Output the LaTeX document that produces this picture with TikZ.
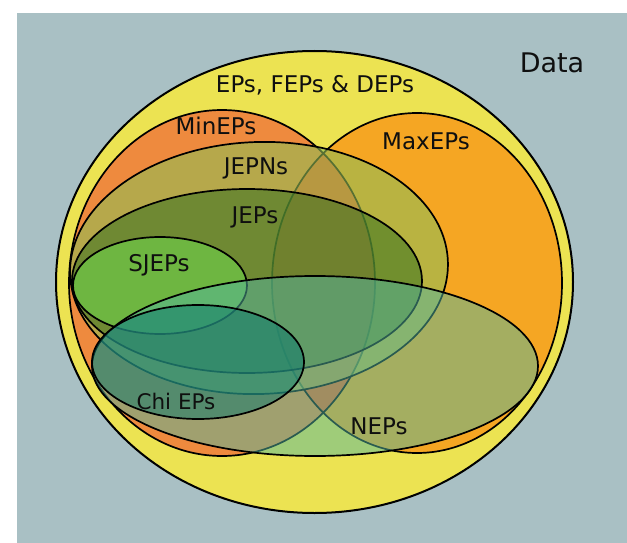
\documentclass[tikz,border=0pt]{standalone}
\usepackage{fontspec}
\setmainfont{DejaVu Sans}
\definecolor{bgc}{RGB}{169,192,196}
\definecolor{epsc}{RGB}{236,227,82}
\definecolor{minc}{RGB}{238,138,62}
\definecolor{maxc}{RGB}{245,166,35}
\definecolor{lensc}{RGB}{240,100,35}
\definecolor{jepnc}{RGB}{145,188,85}
\definecolor{jepc}{RGB}{42,108,28}
\definecolor{sjepc}{RGB}{110,190,68}
\definecolor{nepc}{RGB}{84,182,160}
\definecolor{chic}{RGB}{9,120,109}
\definecolor{txt}{RGB}{15,15,15}
\tikzset{
  setline/.style={draw=black, line width=1.7pt},
  lab/.style={anchor=base, text=txt, inner sep=0pt, font=\fontsize{23}{28}\selectfont},
}
\begin{document}
\begin{tikzpicture}[x=1pt,y=-1pt]
\useasboundingbox (0,0) rectangle (627,543);
\fill[bgc] (17,13) rectangle (627,543);
% EPs
\path[setline, fill=epsc, line width=2pt] (314.5,282) ellipse [x radius=258.5, y radius=231];
% MinEPs and MaxEPs fills
\fill[minc] (222,283) ellipse [x radius=153, y radius=173];
\fill[maxc] (417,283) ellipse [x radius=145, y radius=170];
\begin{scope}
  \clip (222,283) ellipse [x radius=153, y radius=173];
  \fill[lensc] (417,283) ellipse [x radius=145, y radius=170];
\end{scope}
\draw[setline] (222,283) ellipse [x radius=153, y radius=173];
\draw[setline] (417,283) ellipse [x radius=145, y radius=170];
% JEPNs
\path[setline, fill=jepnc, fill opacity=0.6, rotate around={2:(259,268)}] (259,268) ellipse [x radius=189, y radius=126];
% JEPs
\path[setline, fill=jepc, fill opacity=0.5] (247,281) ellipse [x radius=175, y radius=92];
% SJEPs
\path[setline, fill=sjepc, fill opacity=0.85] (160,285.5) ellipse [x radius=87, y radius=48.5];
% NEPs
\path[setline, fill=nepc, fill opacity=0.5] (315,366) ellipse [x radius=223, y radius=90];
% Chi EPs
\path[setline, fill=chic, fill opacity=0.5] (198,362) ellipse [x radius=106, y radius=57];
% labels
\node[lab, font=\fontsize{27}{32}\selectfont] (data) at (552,73) {Data};
\node[lab] (eps) at (315,92.5) {EPs, FEPs \& DEPs};
\node[lab] (min) at (216,135) {MinEPs};
\node[lab] (max) at (426,149) {MaxEPs};
\node[lab] (jepn) at (256,174) {JEPNs};
\node[lab] (jep) at (255,223) {JEPs};
\node[lab] (sjep) at (159,271) {SJEPs};
\node[lab, font=\fontsize{21.5}{26}\selectfont] (chi) at (176,409) {Chi EPs};
\node[lab] (nep) at (379,434) {NEPs};
\end{tikzpicture}
\end{document}
